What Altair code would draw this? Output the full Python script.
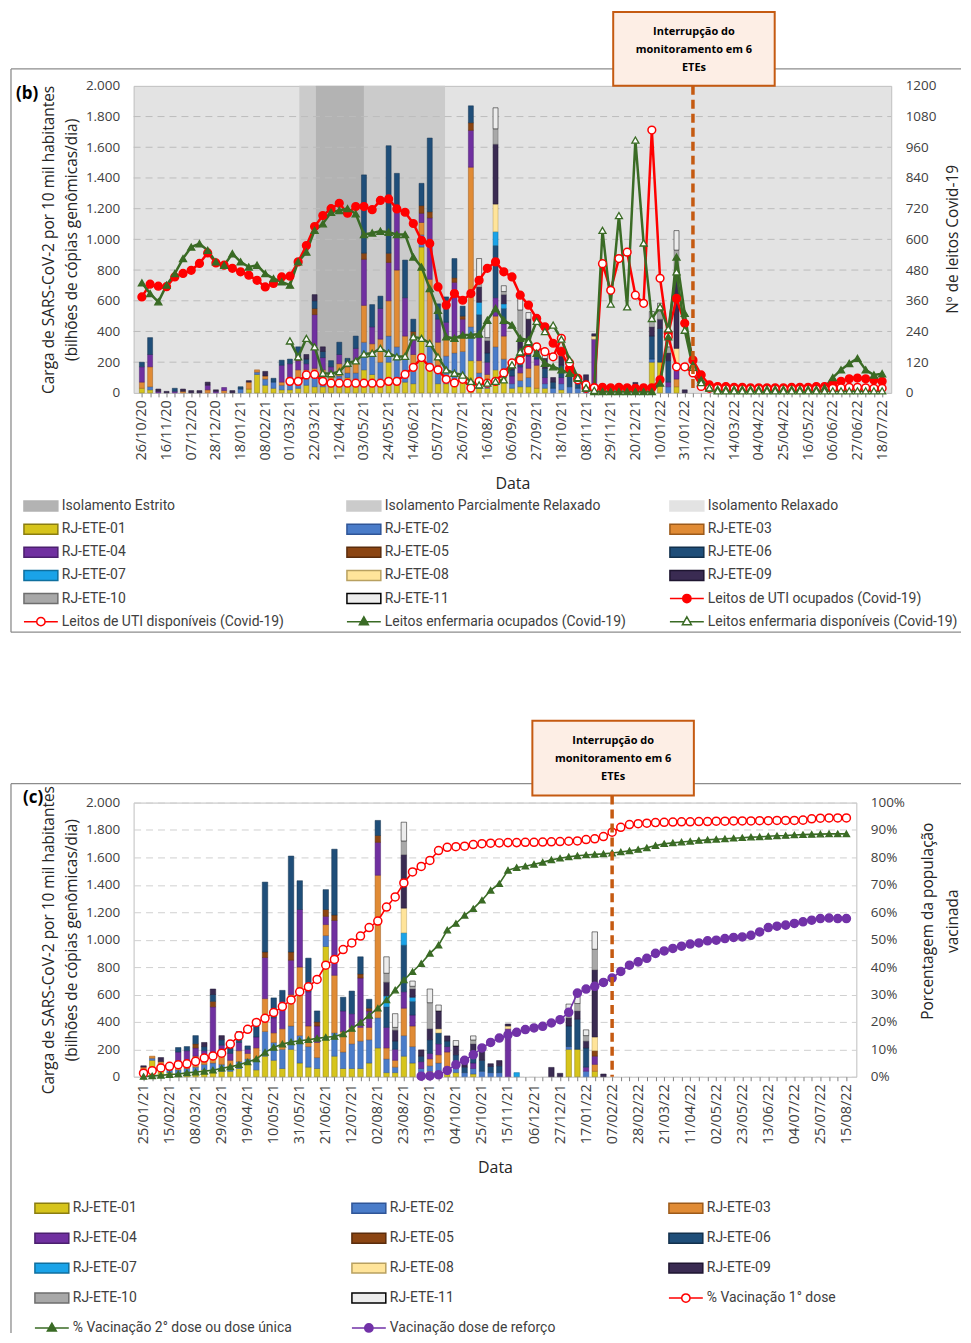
import json
import altair as alt
import pandas as pd

# ---------------------------------------------------------------- categories
WEEKS = [d.strftime("%d/%m/%y") for d in pd.date_range("2020-10-26", "2022-08-15", freq="7D")]

TICKS_B = ["26/10/20", "16/11/20", "07/12/20", "28/12/20", "18/01/21", "08/02/21", "01/03/21",
           "22/03/21", "12/04/21", "03/05/21", "24/05/21", "14/06/21", "05/07/21", "26/07/21",
           "16/08/21", "06/09/21", "27/09/21", "18/10/21", "08/11/21", "29/11/21", "20/12/21",
           "10/01/22", "31/01/22", "21/02/22", "14/03/22", "04/04/22", "25/04/22", "16/05/22",
           "06/06/22", "27/06/22", "18/07/22"]
TICKS_C = ["25/01/21", "15/02/21", "08/03/21", "29/03/21", "19/04/21", "10/05/21", "31/05/21",
           "21/06/21", "12/07/21", "02/08/21", "23/08/21", "13/09/21", "04/10/21", "25/10/21",
           "15/11/21", "06/12/21", "27/12/21", "17/01/22", "07/02/22", "28/02/22", "21/03/22",
           "11/04/22", "02/05/22", "23/05/22", "13/06/22", "04/07/22", "25/07/22", "15/08/22"]

STATIONS = ["RJ-ETE-01", "RJ-ETE-02", "RJ-ETE-03", "RJ-ETE-04", "RJ-ETE-05", "RJ-ETE-06",
            "RJ-ETE-07", "RJ-ETE-08", "RJ-ETE-09", "RJ-ETE-10", "RJ-ETE-11"]

# weekly viral load per station (index 0 = 26/10/20)
ETE01 = [30, 20, 0, 0, 0, 0, 0, 0, 0, 0,
         0, 0, 0, 25, 120, 50, 30, 20, 20, 30,
         50, 40, 40, 40, 60, 100, 50, 150, 120, 60,
         200, 100, 70, 60, 950, 150, 60, 60, 60, 100,
         210, 30, 30, 150, 100, 30, 40, 40, 30, 30,
         0, 20, 0, 0, 0, 0, 0, 0, 0, 0,
         0, 0, 200, 200, 0, 40, 0]
ETE02 = [0, 20, 0, 0, 0, 0, 0, 0, 0, 0,
         0, 0, 25, 0, 15, 40, 40, 30, 40, 40,
         40, 60, 50, 30, 50, 30, 80, 180, 130, 140,
         170, 200, 150, 80, 80, 170, 120, 180, 200, 170,
         220, 100, 40, 150, 120, 30, 40, 60, 0, 30,
         30, 40, 40, 30, 30, 0, 0, 0, 0, 0,
         0, 0, 20, 0, 40, 0, 0]
ETE03 = [40, 130, 0, 0, 0, 10, 0, 0, 20, 0,
         15, 0, 0, 45, 15, 20, 0, 20, 30, 80,
         60, 60, 60, 50, 80, 40, 80, 240, 70, 150,
         230, 500, 150, 110, 80, 420, 150, 120, 100, 90,
         1040, 80, 50, 200, 150, 0, 50, 60, 150, 0,
         0, 0, 0, 0, 0, 0, 0, 0, 0, 0,
         0, 0, 0, 0, 0, 50, 0]
ETE04 = [100, 80, 10, 0, 10, 0, 0, 0, 30, 10,
         20, 0, 0, 0, 0, 0, 0, 110, 100, 60,
         40, 350, 80, 50, 60, 30, 80, 300, 110, 200,
         250, 420, 250, 120, 60, 400, 150, 100, 360, 120,
         240, 150, 80, 120, 80, 50, 40, 80, 40, 40,
         0, 40, 0, 0, 0, 350, 0, 0, 0, 0,
         0, 0, 0, 0, 30, 60, 0]
ETE05 = [0, 0, 0, 0, 0, 0, 0, 0, 0, 0,
         0, 0, 0, 0, 0, 0, 0, 0, 0, 30,
         0, 40, 0, 0, 0, 0, 0, 40, 0, 0,
         60, 0, 0, 30, 50, 40, 0, 0, 30, 20,
         50, 0, 0, 0, 0, 0, 0, 0, 0, 0,
         0, 0, 0, 0, 0, 0, 0, 0, 0, 0,
         0, 0, 0, 0, 0, 40, 0]
ETE06 = [30, 110, 0, 0, 20, 0, 0, 0, 0, 0,
         0, 0, 15, 0, 0, 0, 25, 33, 30, 60,
         30, 50, 40, 40, 80, 25, 80, 510, 145, 80,
         700, 210, 245, 80, 145, 480, 100, 165, 125, 65,
         110, 150, 60, 340, 100, 40, 100, 80, 40, 60,
         40, 80, 80, 45, 50, 0, 0, 0, 0, 0,
         0, 0, 150, 220, 140, 0, 0]
ETE07 = [0, 0, 0, 0, 0, 0, 0, 0, 0, 0,
         0, 0, 0, 0, 0, 0, 0, 0, 0, 0,
         0, 0, 0, 0, 0, 0, 0, 0, 0, 0,
         0, 0, 0, 0, 0, 0, 0, 0, 0, 0,
         0, 80, 0, 90, 30, 0, 0, 0, 0, 0,
         0, 0, 0, 0, 0, 0, 30, 0, 0, 0,
         0, 0, 0, 0, 0, 0, 0]
ETE08 = [0, 0, 0, 0, 0, 0, 0, 0, 0, 0,
         0, 0, 0, 0, 0, 0, 0, 0, 0, 0,
         0, 0, 0, 0, 0, 0, 0, 0, 0, 0,
         0, 0, 0, 0, 0, 0, 0, 0, 0, 0,
         0, 0, 0, 180, 0, 0, 0, 30, 0, 0,
         0, 0, 0, 0, 0, 20, 0, 0, 0, 0,
         0, 0, 0, 0, 0, 100, 0]
ETE09 = [0, 0, 15, 10, 0, 15, 15, 15, 20, 10,
         0, 15, 0, 10, 0, 30, 0, 0, 0, 0,
         30, 40, 30, 0, 0, 0, 0, 0, 0, 0,
         0, 0, 0, 0, 0, 0, 0, 0, 0, 0,
         0, 100, 80, 390, 60, 46, 80, 130, 38, 64,
         30, 60, 65, 20, 38, 15, 0, 0, 0, 0,
         68, 25, 60, 60, 50, 490, 20]
ETE10 = [0, 0, 0, 0, 0, 0, 0, 0, 0, 0,
         0, 0, 0, 0, 0, 0, 0, 0, 0, 0,
         0, 0, 0, 0, 0, 0, 0, 0, 0, 0,
         0, 0, 0, 0, 0, 0, 0, 0, 0, 0,
         0, 65, 20, 100, 20, 0, 190, 0, 0, 0,
         0, 28, 0, 0, 0, 0, 0, 0, 0, 0,
         0, 0, 50, 54, 40, 150, 0]
ETE11 = [0, 0, 0, 0, 0, 0, 0, 0, 0, 0,
         0, 0, 0, 0, 0, 0, 0, 0, 0, 0,
         0, 0, 0, 0, 0, 0, 0, 0, 0, 0,
         0, 0, 0, 0, 0, 0, 0, 0, 0, 0,
         0, 120, 100, 137, 38, 0, 100, 43, 0, 40,
         0, 30, 0, 0, 0, 0, 0, 0, 0, 0,
         0, 0, 50, 50, 42, 127, 0]
ETE = [ETE01, ETE02, ETE03, ETE04, ETE05, ETE06, ETE07, ETE08, ETE09, ETE10, ETE11]

# hospital beds (index 0 = 26/10/20)
UTI_OCUP = [375, 425, 417, 415, 453, 467, 479, 506, 547, 508,
            499, 487, 473, 460, 440, 414, 428, 453, 456, 512,
            576, 650, 693, 720, 741, 702, 728, 728, 716, 752,
            758, 719, 706, 662, 596, 584, 414, 343, 388, 362,
            388, 440, 487, 512, 473, 453, 382, 343, 291, 258,
            194, 161, 96, 57, 18, 20, 22, 20, 22, 20,
            18, 20, 20, 51, 233, 369, 272, 128, 70, 31,
            25, 25, 22, 22, 20, 20, 20, 20, 20, 22,
            22, 22, 25, 25, 35, 45, 55, 58, 55, 50,
            45]
UTI_DISP = [None, None, None, None, None, None, None, None, None, None,
            None, None, None, None, None, None, None, None, 45, 45,
            70, 72, 45, 38, 38, 38, 38, 38, 38, 38,
            45, 45, 72, 100, 138, 100, 90, 53, 39, 53,
            19, 45, 38, 45, 78, 117, 128, 167, 180, 161,
            141, 213, 117, 51, 31, 20, 505, 401, 525, 550,
            382, 350, 1027, 448, 219, 102, 102, 78, 25, 18,
            18, 16, 16, 15, 15, 15, 15, 15, 15, 15,
            15, 15, 15, 15, 18, 20, 22, 22, 20, 18,
            18]
ENF_OCUP = [430, 388, 356, 421, 466, 525, 570, 583, 557, 512,
            499, 544, 512, 492, 499, 466, 447, 434, 421, 512,
            550, 635, 661, 706, 713, 720, 700, 619, 625, 632,
            628, 619, 619, 531, 492, 408, 323, 219, 213, 226,
            226, 230, 284, 330, 284, 265, 213, 206, 155, 116,
            102, 90, 77, 57, 19, 5, 5, 5, 5, 5,
            5, 5, 5, 38, 219, 531, 311, 109, 51, 19,
            15, 15, 15, 15, 15, 15, 15, 15, 15, 15,
            15, 15, 15, 20, 60, 90, 115, 135, 90, 70,
            75]
ENF_DISP = [None, None, None, None, None, None, None, None, None, None,
            None, None, None, None, None, None, None, None, 203, 141,
            213, 180, 77, 75, 83, 116, 125, 152, 155, 174,
            155, 141, 143, 219, 213, 194, 141, 90, 77, 70,
            45, 31, 38, 45, 51, 110, 160, 200, 280, 240,
            265, 210, 130, 60, 20, 10, 635, 347, 693, 336,
            988, 586, 291, 336, 250, 473, 245, 100, 40, 20,
            8, 8, 8, 8, 8, 8, 8, 8, 8, 8,
            8, 8, 8, 8, 8, 8, 8, 8, 8, 8,
            8]

# vaccination (index 0 = 25/01/21), %
DOSE1 = [1.3, 2.2, 3.2, 3.8, 4.4, 4.7, 5.6, 6.8, 7.6, 8.6,
         11.9, 14.9, 17.3, 19.8, 21.3, 23.4, 25.6, 28.0, 31.0, 32.8,
         35.5, 40.7, 42.8, 46.4, 48.8, 51.3, 54.4, 56.8, 61.9, 65.6,
         70.7, 74.7, 76.7, 78.9, 82.5, 83.7, 83.9, 84.1, 84.7, 85.0,
         85.2, 85.3, 85.4, 85.4, 85.5, 85.5, 85.6, 85.7, 85.8, 85.9,
         86.0, 86.5, 86.8, 87.6, 89.2, 91.0, 92.0, 92.3, 92.5, 92.7,
         92.8, 92.9, 93.0, 93.0, 93.1, 93.1, 93.2, 93.2, 93.3, 93.3,
         93.3, 93.4, 93.4, 93.5, 93.5, 93.5, 93.6, 94.1, 94.3, 94.4,
         94.4, 94.4]
DOSE2 = [0.1, 0.3, 0.5, 0.8, 1.0, 1.4, 1.7, 2.0, 2.4, 3.1,
         3.6, 4.4, 5.4, 6.5, 8.9, 10.7, 11.9, 12.7, 13.1, 13.5,
         14.0, 14.4, 14.7, 15.6, 17.6, 19.8, 22.4, 25.0, 28.0, 31.6,
         35.3, 38.3, 41.3, 45.0, 48.0, 53.5, 55.9, 58.9, 61.3, 64.4,
         68.0, 70.4, 75.3, 76.3, 76.8, 77.5, 78.2, 79.1, 79.7, 80.2,
         80.6, 80.9, 81.1, 81.3, 81.6, 82.0, 82.4, 82.9, 83.5, 84.3,
         85.0, 85.3, 85.6, 85.9, 86.2, 86.4, 86.6, 86.8, 87.0, 87.2,
         87.4, 87.5, 87.7, 87.9, 88.0, 88.2, 88.3, 88.4, 88.5, 88.6,
         88.6, 88.6]
REFORCO = [None, None, None, None, None, None, None, None, None, None,
           None, None, None, None, None, None, None, None, None, None,
           None, None, None, None, None, None, None, None, None, None,
           None, None, 0.2, 0.3, 0.7, 2.3, 4.4, 6.0, 8.0, 10.5,
           12.5, 14.1, 15.3, 16.2, 17.2, 17.8, 18.4, 19.6, 20.8, 23.5,
           30.5, 32.0, 33.0, 34.4, 36.0, 38.4, 40.7, 41.9, 43.2, 45.0,
           45.9, 46.8, 47.6, 48.4, 48.8, 49.6, 49.8, 50.4, 50.8, 51.0,
           51.6, 52.8, 54.4, 54.9, 55.3, 55.9, 56.5, 57.1, 57.7, 57.9,
           57.7, 57.7]

REGION_NAMES = ["Isolamento Parcialmente Relaxado", "Isolamento Estrito", "Isolamento Parcialmente Relaxado"]
REGION_START = ["09/03/21", "23/03/21", "03/05/21"]
REGION_END = ["23/03/21", "03/05/21", "11/07/21"]
INTERRUPCAO = "07/02/22"
GRID_VALUES = [200, 400, 600, 800, 1000, 1200, 1400, 1600, 1800]

REGIONS = ["Isolamento Estrito", "Isolamento Parcialmente Relaxado", "Isolamento Relaxado"]
LINES_B = ["Leitos de UTI ocupados (Covid-19)", "Leitos de UTI disponíveis (Covid-19)",
           "Leitos enfermaria ocupados (Covid-19)", "Leitos enfermaria disponíveis (Covid-19)"]
LINES_C = ["% Vacinação 1° dose", "% Vacinação 2° dose ou dose única", "Vacinação dose de reforço"]

# ---------------------------------------------------------------- styles
FONT = "Open Sans"
LEG_FONT = "Roboto"
ORANGE = "#c55a11"
RED = "#ff0000"
GREEN = "#3a6b25"
PURPLE = "#7232a8"
BAR_FILL = ["#d6c41c", "#4a7cc9", "#e08b35", "#7030a0", "#8b4513", "#1f4e79",
            "#1aa3e8", "#ffe49a", "#3a2b52", "#a8a8a8", "#ececec"]
BAR_STROKE = ["#8a7d10", "#2f5597", "#9c5a1a", "#4b1f6e", "#5a2c0c", "#12304c",
              "#0f6f9e", "#b8a060", "#1e1530", "#6e6e6e", "#000000"]
REG_FILL = ["#b3b3b3", "#cbcbcb", "#e3e3e3"]
RECT = "M-2.125,-0.625H2.125V0.625H-2.125Z"
CIRC = "M-2.125,0H-0.52M0.52,0H2.125M-0.52,0A0.52,0.52,0,1,1,0.52,0A0.52,0.52,0,1,1,-0.52,0Z"
TRI = "M-2.125,0H-0.36M0.36,0H2.125M0,-0.6L0.56,0.38L-0.56,0.38Z"


def widx(s):
    return (pd.to_datetime(s, format="%d/%m/%y") - pd.to_datetime(WEEKS[0], format="%d/%m/%y")).days / 7


def bars_df(start, n):
    rows = []
    for k, (name, vals) in enumerate(zip(STATIONS, ETE)):
        for i, v in enumerate(vals):
            w = i - start
            if v > 0 and 0 <= w < n:
                rows.append({"w": w, "series": name, "k": k, "v": v})
    return pd.DataFrame(rows)


def lines_df(names, arrays):
    rows = [{"w": i, "series": nm, "v": v}
            for nm, arr in zip(names, arrays) for i, v in enumerate(arr) if v is not None]
    return pd.DataFrame(rows)


def x_axis(ticks, n):
    arr = json.dumps(ticks)
    return alt.Axis(values=list(range(n)),
                    labelExpr=f"datum.value % 3 == 0 ? {arr}[round(datum.value / 3)] : ''",
                    labelAngle=270, labelFont=FONT, labelFontSize=14.5, labelColor="#404040",
                    labelPadding=3, labelOverlap=False, labelFlush=False, labelBound=False,
                    ticks=True, tickSize=4, tickColor="#7f7f7f", domain=False, grid=False,
                    title="Data", titleFont=FONT, titleFontSize=16, titleFontWeight="normal",
                    titleColor="#262626", titlePadding=16)


LEFT_TITLE = ["Carga de SARS-CoV-2 por 10 mil habitantes", "(bilhões de cópias genômicas/dia)"]


def left_axis(grid):
    return alt.Axis(values=list(range(0, 2001, 200)),
                    labelExpr="replace(format(datum.value, ','), ',', '.')",
                    grid=grid, gridColor="#d0d0d0", gridDash=[7, 5], ticks=False, domain=False,
                    labelFont=FONT, labelFontSize=13.5, labelColor="#404040", labelPadding=14,
                    title=LEFT_TITLE, titleFont=FONT, titleFontSize=15.5, titleFontWeight="normal",
                    titleColor="#262626", titlePadding=6, titleLineHeight=23)


def right_axis(values, expr):
    return alt.Axis(orient="right", values=values, labelExpr=expr, grid=False, ticks=False,
                    domain=False, labelFont=FONT, labelFontSize=13.5, labelColor="#404040",
                    labelPadding=14, title=None)


def legend(x, y, colpad, rowpad):
    return alt.Legend(title=None, orient="none", legendX=x, legendY=y, columns=3,
                      columnPadding=colpad, rowPadding=rowpad, gridAlign="all",
                      symbolSize=256, symbolStrokeWidth=1.5, symbolOpacity=1, labelOffset=12,
                      labelFont=LEG_FONT, labelFontSize=14, labelColor="#404040", labelLimit=400,
                      padding=0, direction="horizontal")


def panel(cfg):
    W, H = cfg["W"], cfg["H"]
    xs = alt.Scale(domain=cfg["xdom"], nice=False, zero=False)
    ybar = alt.Scale(domain=[0, 2000], nice=False)
    yline = alt.Scale(domain=cfg["ydom"], nice=False)
    leg = cfg["legend"]
    fill = lambda: alt.Fill("series:N", scale=alt.Scale(domain=cfg["series"], range=cfg["fill"]), legend=leg)
    stroke = lambda: alt.Stroke("series:N", scale=alt.Scale(domain=cfg["series"], range=cfg["stroke"]), legend=leg)
    shape = lambda: alt.Shape("series:N", scale=alt.Scale(domain=cfg["series"], range=cfg["shape"]), legend=leg)
    xe = lambda f="w": alt.X(f"{f}:Q", scale=xs, axis=x_axis(cfg["ticks"], cfg["n"]))
    yb = lambda f="v": alt.Y(f"{f}:Q", scale=ybar, axis=left_axis(cfg["grid"]))
    dummy = pd.DataFrame({"a": [0]})

    left_layers = []
    if cfg.get("regions") is not None:
        left_layers.append(alt.Chart(cfg["regions"]).mark_rect(opacity=1).encode(
            x=xe("s"), x2="e:Q", y=alt.value(0), y2=alt.value(H), fill=fill()))
        left_layers.append(alt.Chart(pd.DataFrame({"g": GRID_VALUES})).mark_rule(
            color="#bcbcbc", strokeDash=[7, 5], strokeWidth=1).encode(
            y=yb("g"), x=alt.value(0), x2=alt.value(W)))
    left_layers.append(alt.Chart(cfg["bars"]).mark_bar(
        orient="vertical", size=cfg["barsize"], strokeWidth=0.5, opacity=1).encode(
        x=xe(),
        y=alt.Y("v:Q", stack="zero", scale=ybar, axis=left_axis(cfg["grid"])),
        order=alt.Order("k:Q", sort="ascending"),
        fill=fill(), stroke=stroke()))
    left = alt.layer(*left_layers)

    ld = cfg["lines"]
    yl = lambda: alt.Y("v:Q", scale=yline, axis=right_axis(cfg["rvalues"], cfg["rexpr"]))
    right_layers = [
        alt.Chart(ld).mark_line(strokeWidth=cfg["lw"]).encode(x=xe(), y=yl(), stroke=stroke()),
        alt.Chart(ld).transform_filter(alt.FieldOneOfPredicate(field="series", oneOf=cfg["circles"]))
        .mark_point(shape="circle", size=cfg["csize"], filled=True, opacity=1, strokeWidth=1.5)
        .encode(x=xe(), y=yl(), fill=fill(), stroke=stroke()),
        alt.Chart(ld).transform_filter(alt.FieldOneOfPredicate(field="series", oneOf=cfg["tris"]))
        .mark_point(shape="triangle-up", size=cfg["tsize"], filled=True, opacity=1, strokeWidth=1.3)
        .encode(x=xe(), y=yl(), fill=fill(), stroke=stroke()),
        alt.Chart(pd.DataFrame({"series": cfg["series"]})).transform_filter("false")
        .mark_point(filled=True, opacity=1).encode(shape=shape(), fill=fill(), stroke=stroke()),
    ]
    right = alt.layer(*right_layers)

    fl, fr, ft, fb = cfg["frame"]
    frame_layers = [
        alt.Chart(dummy).mark_rule(color="#8c8c8c", strokeWidth=1.3).encode(
            x=alt.value(fl), x2=alt.value(fr), y=alt.value(ft)),
        alt.Chart(dummy).mark_rule(color="#8c8c8c", strokeWidth=1.3).encode(
            x=alt.value(fl), y=alt.value(ft), y2=alt.value(fb)),
    ]
    if cfg["frame_bottom"]:
        frame_layers.append(alt.Chart(dummy).mark_rule(color="#8c8c8c", strokeWidth=1.3).encode(
            x=alt.value(fl), x2=alt.value(fr), y=alt.value(fb)))
    frame = alt.layer(*frame_layers)

    one = pd.DataFrame({"w": [widx(INTERRUPCAO) - cfg["start"]]})
    bt, bb = cfg["box"]
    ox0, ox1 = cfg["boxoff"]
    rx, ry = cfg["rtitle_pos"]
    deco = alt.layer(
        alt.Chart(one).mark_rule(color=ORANGE, strokeWidth=3.5, strokeDash=[9, 5]).encode(
            x=xe(), y=alt.value(bb), y2=alt.value(H)),
        alt.Chart(one).mark_rect(fill="#fdeee5", stroke=ORANGE, strokeWidth=2,
                                 xOffset=ox0, x2Offset=ox1).encode(
            x=xe(), x2="w:Q", y=alt.value(bt), y2=alt.value(bb)),
        alt.Chart(one).mark_text(text=["Interrupção do", "monitoramento em 6", "ETEs"], font=FONT,
                                 fontSize=11, fontWeight="bold", lineHeight=18, align="center",
                                 baseline="middle", color="black", dx=(ox0 + ox1) / 2).encode(
            x=xe(), y=alt.value(cfg["text_y"])),
        alt.Chart(dummy).mark_text(text=cfg["label"], font=FONT, fontSize=17, fontWeight="bold",
                                   align="left", baseline="middle", color="black").encode(
            x=alt.value(cfg["labelpos"][0]), y=alt.value(cfg["labelpos"][1])),
        alt.Chart(dummy).mark_text(text=cfg["rtitle"], font=FONT, fontSize=15.5, angle=270,
                                   align="center", baseline="middle", lineHeight=25,
                                   color="#262626").encode(
            x=alt.value(rx), y=alt.value(ry)),
    )

    return alt.layer(frame, left, right, deco).resolve_scale(y="independent").properties(
        width=W, height=H, view=alt.ViewBackground(fill=cfg["bg"], stroke="#bfbfbf", strokeWidth=1))


# ---------------------------------------------------------------- panel b
start_b = 0
regions_df = pd.DataFrame({"series": REGION_NAMES,
                           "s": [widx(s) - start_b for s in REGION_START],
                           "e": [widx(s) - start_b for s in REGION_END]})
cfg_b = dict(
    W=760, H=308, start=start_b, n=91, xdom=[-0.4, 90.5], ydom=[0, 1200], ticks=TICKS_B,
    series=REGIONS + STATIONS + LINES_B,
    fill=REG_FILL + BAR_FILL + [RED, "#ffffff", GREEN, "#ffffff"],
    stroke=REG_FILL + BAR_STROKE + [RED, RED, GREEN, GREEN],
    shape=[RECT] * 14 + [CIRC, CIRC, TRI, TRI],
    legend=legend(-102, 412.5, 32, 6.2),
    regions=regions_df, grid=False, bars=bars_df(start_b, 91), barsize=5,
    lines=lines_df(LINES_B, [UTI_OCUP, UTI_DISP, ENF_OCUP, ENF_DISP]),
    circles=LINES_B[:2], tris=LINES_B[2:], csize=60, tsize=50, lw=2.5,
    rvalues=list(range(0, 1201, 120)), rexpr="format(datum.value, 'd')",
    rtitle="Nº de leitos Covid-19", rtitle_pos=(822, 154),
    frame=(-123, 830, -17, 548), frame_bottom=True,
    box=(-74, 0), boxoff=(-80, 82), text_y=-54, label="(b)", labelpos=(-118, 8), bg="#e3e3e3",
)

# ---------------------------------------------------------------- panel c
start_c = WEEKS.index("25/01/21")
cfg_c = dict(
    W=725, H=275, start=start_c, n=82, xdom=[-0.57, 81.57], ydom=[0, 100], ticks=TICKS_C,
    series=STATIONS + LINES_C,
    fill=BAR_FILL + ["#ffffff", GREEN, PURPLE],
    stroke=BAR_STROKE + [RED, GREEN, PURPLE],
    shape=[RECT] * 11 + [CIRC, TRI, CIRC],
    legend=legend(-91, 398, 57, 13),
    regions=None, grid=True, bars=bars_df(start_c, 82), barsize=5.5,
    lines=lines_df(LINES_C, [DOSE1, DOSE2, REFORCO]),
    circles=[LINES_C[0], LINES_C[2]], tris=[LINES_C[1]], csize=65, tsize=40, lw=1.6,
    rvalues=list(range(0, 101, 10)), rexpr="datum.value + '%'",
    rtitle=["Porcentagem da população", "vacinada"], rtitle_pos=(797, 119),
    frame=(-123, 830, -19, 532), frame_bottom=False,
    box=(-82, -7), boxoff=(-80, 82), text_y=-62, label="(c)", labelpos=(-111, -5), bg="#ffffff",
)

chart = alt.vconcat(panel(cfg_b), panel(cfg_c), spacing=85).resolve_scale(
    x="independent", y="independent", fill="independent", stroke="independent", shape="independent"
).resolve_legend(
    fill="independent", stroke="independent", shape="independent"
).properties(padding={"left": 1, "top": 0, "right": 0, "bottom": 0})

chart.save("out.html", embed_options={"renderer": "svg", "actions": False})
